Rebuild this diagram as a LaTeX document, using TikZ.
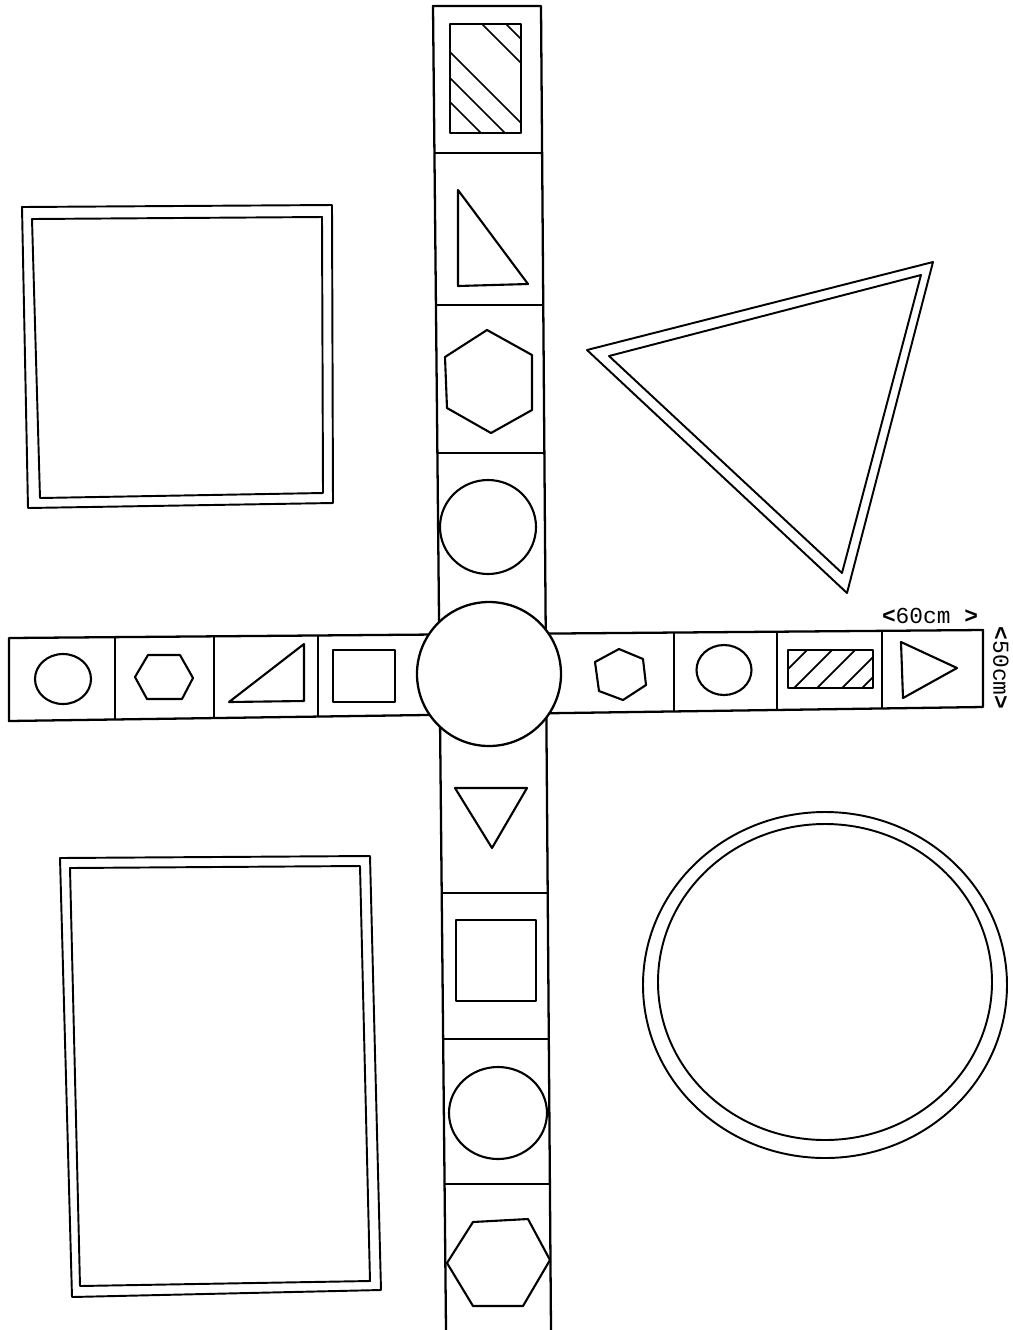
\documentclass[tikz,border=0pt]{standalone}
\usepackage{fontspec}
\setmonofont{Liberation Mono}
\usetikzlibrary{calc}

\begin{document}
\begin{tikzpicture}[
    x=0.02cm, y=-0.02cm,
    every node/.style={font=\ttfamily\fontsize{13}{15}\selectfont, inner sep=0pt},
    strip/.style={draw=black, line width=1.3pt, line join=round},
    divider/.style={draw=black, line width=1.2pt},
    sign/.style={draw=black, line width=1.2pt, line join=round},
    matline/.style={draw=black, line width=1.1pt, line join=round},
    hatch/.style={draw=black, line width=1pt}
]
\useasboundingbox (0,0) rectangle (1013,1330);

% Strip corners
\coordinate (vtl) at (433,6);
\coordinate (vtr) at (541,6);
\coordinate (vbl) at (446,1330);
\coordinate (vbr) at (551,1330);
\coordinate (htl) at (9,638);
\coordinate (hbl) at (9,721);
\coordinate (htr) at (983,630);
\coordinate (hbr) at (983,707);

% Vertical strip
\draw[strip] (vbl) -- (vtl) -- (vtr) -- (vbr);
\foreach \yy in {153,305,453,893,1039,1184} {
    \pgfmathsetmacro{\t}{(\yy-6)/1324}
    \draw[divider] ($(vtl)!\t!(vbl)$) -- ($(vtr)!\t!(vbr)$);
}

% Horizontal strip
\draw[strip] (htl) -- (htr) -- (hbr) -- (hbl) -- cycle;
\foreach \xx in {115,214,318,674,777,882} {
    \pgfmathsetmacro{\t}{(\xx-9)/974}
    \draw[divider] ($(htl)!\t!(htr)$) -- ($(hbl)!\t!(hbr)$);
}

% Centre circle
\draw[strip, fill=white] (489,674) circle[radius=72];

% Upper cells
\draw[sign] (450,24) rectangle (521,133);
\begin{scope}
    \clip (450,24) rectangle (521,133);
    \foreach \c in {-482,-458,-398,-372,-348}
        \draw[hatch] (440,440+\c) -- (530,530+\c);
\end{scope}
\draw[sign] (458,190) -- (458,286) -- (528,284) -- cycle;
\draw[sign] (487,330) -- (532,355) -- (532,410) -- (491,433) -- (447,408) -- (445,357) -- cycle;
\draw[sign] (488,527) ellipse[x radius=48, y radius=47];

% Lower cells
\draw[sign] (455,788) -- (527,788) -- (492,848) -- cycle;
\draw[sign] (456,920) rectangle (536,1001);
\draw[sign] (498,1113) ellipse[x radius=49, y radius=46];
\draw[sign] (473,1222) -- (528,1219) -- (550,1260) -- (523,1306) -- (473,1306) -- (447,1263) -- cycle;

% Left cells
\draw[sign] (63,679) ellipse[x radius=28, y radius=25];
\draw[sign] (135,677) -- (148,655) -- (180,655) -- (193,678) -- (182,699) -- (147,699) -- cycle;
\draw[sign] (229,702) -- (304,644) -- (304,701) -- cycle;
\draw[sign] (333,650) rectangle (395,702);

% Right cells
\draw[sign] (619,649) -- (643,659) -- (646,685) -- (623,700) -- (599,691) -- (595,662) -- cycle;
\draw[sign] (724,670) ellipse[x radius=27.5, y radius=25];
\draw[sign] (788,650) rectangle (873,688);
\begin{scope}
    \clip (788,650) rectangle (873,688);
    \foreach \k in {1457,1482,1505,1530,1550}
        \draw[hatch] (780,\k-780) -- (880,\k-880);
\end{scope}
\draw[sign] (901,642) -- (957,668) -- (903,698) -- cycle;

% Size labels
\node (widthlabel) at (930,616) {\textbf{<}60cm \textbf{>}};
\node[rotate=-90] (heightlabel) at (1001,668) {\textbf{<}50cm\textbf{>}};

% Big mats
\draw[matline] (22,207) -- (332,205) -- (333,503) -- (28,508) -- cycle;
\draw[matline] (32,219) -- (322,217) -- (323,493) -- (40,498) -- cycle;
\draw[matline] (587,350) -- (933,262) -- (847,593) -- cycle;
\draw[matline] (609,356) -- (921,275) -- (842,573) -- cycle;
\draw[matline] (60,858) -- (370,856) -- (381,1290) -- (72,1297) -- cycle;
\draw[matline] (70,868) -- (360,866) -- (370,1281) -- (80,1286) -- cycle;
\draw[matline] (825,985) ellipse[x radius=182, y radius=173];
\draw[matline] (825,982) ellipse[x radius=167, y radius=158];

\end{tikzpicture}
\end{document}
